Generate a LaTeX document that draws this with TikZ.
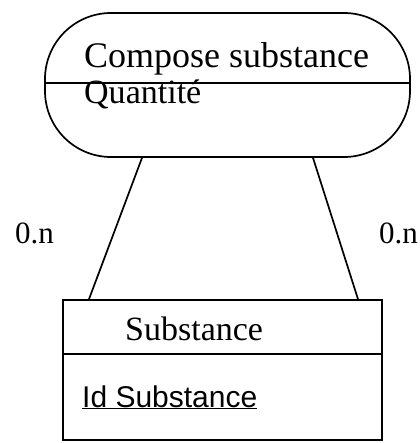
\documentclass[tikz,border=0pt]{standalone}
\usepackage{fontspec}
\setmainfont{Liberation Serif}
\newfontfamily\arialfont{Liberation Sans}
\usetikzlibrary{calc}
\begin{document}
\begin{tikzpicture}[x=1pt,y=-1pt,
  outline/.style={draw=black,line width=1.7pt},
  serlabel/.style={anchor=base west,inner sep=0pt,font=\fontsize{34}{40}\selectfont},
  cardlabel/.style={anchor=base west,inner sep=0pt,font=\fontsize{31}{37}\selectfont},
  link/.style={draw=black,line width=1.7pt}]
\useasboundingbox (0,0) rectangle (419,443);
% association (relation) shape
\node[outline,rounded corners=66pt,minimum width=365pt,minimum height=144pt,inner sep=0pt] (rel) at (227.5,85) {};
\coordinate (relsplitw) at ($(rel.west)+(0,-2)$);
\coordinate (relsplite) at ($(rel.east)+(0,-2)$);
\draw[outline] (relsplitw) -- (relsplite);
\node[serlabel,font=\fontsize{36}{42}\selectfont] (relname) at (84,68) {Compose substance};
\node[serlabel] (relattr) at (84,104) {Quantité};
% entity
\node[outline,minimum width=319pt,minimum height=140pt,inner sep=0pt] (ent) at (222.5,370) {};
\coordinate (entsplitw) at ($(ent.north west)+(0,55)$);
\coordinate (entsplite) at ($(ent.north east)+(0,55)$);
\draw[outline] (entsplitw) -- (entsplite);
\node[serlabel] (entname) at (125,340) {Substance};
\node[anchor=base west,inner sep=0pt,font=\arialfont\fontsize{30}{36}\selectfont] (entid) at (82,407) {\underline{Id Substance}};
% links with cardinalities
\draw[link] ($(rel.south)+(-85.5,0)$) -- ($(ent.north)+(-133.5,0)$);
\draw[link] ($(rel.south)+(85.5,0)$) -- ($(ent.north)+(135.5,0)$);
\node[cardlabel] (cardl) at (15,243) {0.n};
\node[cardlabel] (cardr) at (379,243) {0.n};
\end{tikzpicture}
\end{document}
